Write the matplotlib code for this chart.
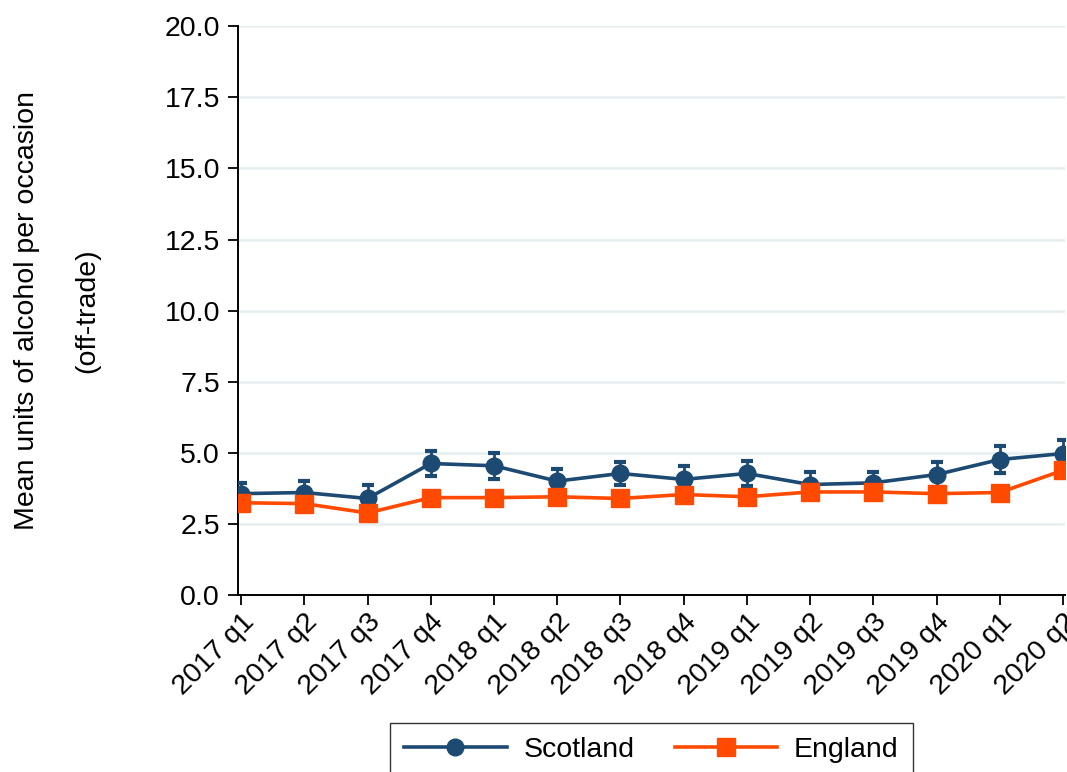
import matplotlib.pyplot as plt
import numpy as np
from matplotlib.lines import Line2D

plt.rcParams['font.family'] = ['Liberation Sans', 'DejaVu Sans']

# Quarters and mean units per occasion (off-trade)
quarters = ['2017 q1', '2017 q2', '2017 q3', '2017 q4',
            '2018 q1', '2018 q2', '2018 q3', '2018 q4',
            '2019 q1', '2019 q2', '2019 q3', '2019 q4',
            '2020 q1', '2020 q2']
scotland = [3.57, 3.61, 3.40, 4.63, 4.55, 4.01, 4.28, 4.07,
            4.28, 3.89, 3.95, 4.24, 4.77, 4.98]
scotland_err = [0.38, 0.39, 0.48, 0.43, 0.46, 0.44, 0.42, 0.46,
                0.44, 0.44, 0.38, 0.45, 0.48, 0.46]
england = [3.25, 3.22, 2.89, 3.43, 3.43, 3.46, 3.40, 3.54,
           3.46, 3.63, 3.63, 3.57, 3.61, 4.39]
yticks = np.arange(0, 20.01, 2.5)

scot_color = '#1c4a72'
eng_color = '#ff4a00'
fs = 20.5

fig = plt.figure(figsize=(10.67, 7.72), dpi=100)
ax = fig.add_axes([0.223, 0.229, 0.775, 0.737])

x = np.arange(len(quarters))
ax.errorbar(x, scotland, yerr=scotland_err, color=scot_color, marker='o',
            markersize=12, linewidth=2.6, elinewidth=2, capsize=4,
            capthick=3, zorder=3)
ax.plot(x, england, color=eng_color, marker='s', markersize=12.5,
        linewidth=2.6, zorder=4)

ax.set_ylim(0, 20)
ax.set_xlim(-0.05, 13.03)
ax.set_yticks(yticks)
ax.set_yticklabels([f'{v:.1f}' for v in yticks])
ax.set_xticks(x)
ax.set_xticklabels(quarters, rotation=45, ha='right', va='top',
                   rotation_mode='anchor')
ax.tick_params(axis='both', labelsize=fs, length=7, width=1.3,
               direction='out', color='black')
ax.tick_params(axis='x', pad=3)
ax.tick_params(axis='y', pad=6)

ax.grid(axis='y', color='#e6eff0', linewidth=1.8, zorder=0)
ax.set_axisbelow(True)
for side in ['top', 'right']:
    ax.spines[side].set_visible(False)
for side in ['left', 'bottom']:
    ax.spines[side].set_linewidth(1.4)
    ax.spines[side].set_color('black')

ax.set_ylabel('Mean units of alcohol per occasion\n\n(off-trade)',
              fontsize=fs, linespacing=1.22)
ax.yaxis.set_label_coords(-0.166, 0.5)

handles = [
    Line2D([], [], color=scot_color, marker='o', markersize=12, linewidth=2.6),
    Line2D([], [], color=eng_color, marker='s', markersize=12.5, linewidth=2.6),
]
leg = ax.legend(handles, ['Scotland', 'England'], loc='upper center',
                bbox_to_anchor=(0.5, -0.225), ncol=2, fontsize=fs,
                frameon=True, fancybox=False, edgecolor='black',
                handlelength=3.6, handletextpad=0.6, columnspacing=1.4,
                borderpad=0.5, borderaxespad=0)
leg.get_frame().set_linewidth(1.0)

fig.savefig('out.png', dpi=100)
